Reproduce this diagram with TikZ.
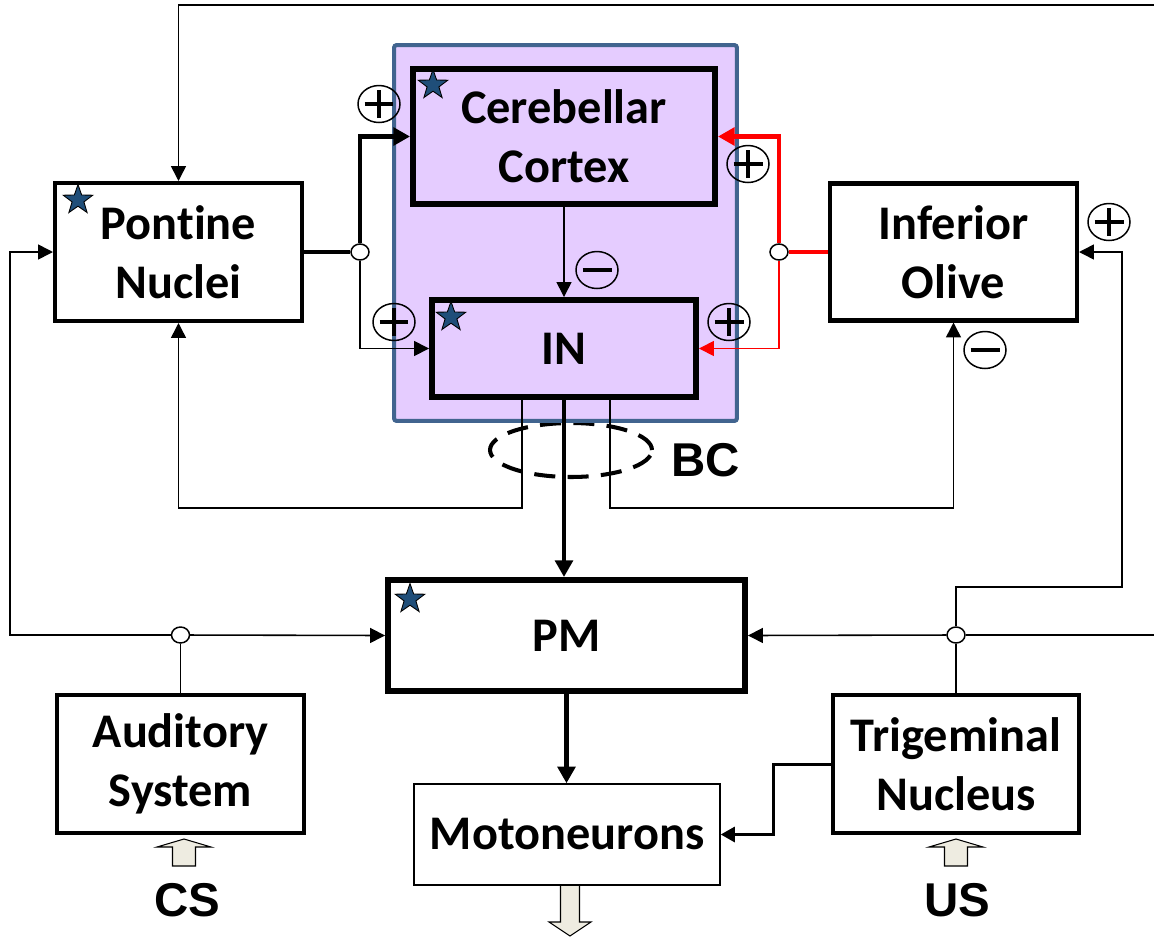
\documentclass[tikz,border=0pt]{standalone}
\usepackage{fontspec}
\setmainfont{Carlito}[Ligatures=NoCommon]
\newfontfamily\labelfont{Liberation Sans}
\usetikzlibrary{positioning,calc,arrows.meta,shapes.geometric}
\definecolor{cbmfill}{RGB}{229,204,255}
\definecolor{cbmedge}{RGB}{65,100,143}
\definecolor{starblue}{RGB}{31,78,121}
\definecolor{inputfill}{RGB}{238,236,225}
\tikzset{
  blk/.style={rectangle, draw=black, line width=2.3pt, fill=white, inner sep=0pt, align=center,
    font=\bfseries\fontsize{27.5}{33.5}\selectfont, minimum width=4.94cm, minimum height=2.76cm},
  blkthick/.style={blk, line width=3.4pt},
  cbm/.style={rectangle, draw=cbmedge, fill=cbmfill, line width=2.3pt, rounded corners=1.5pt,
    minimum width=6.86cm, minimum height=7.52cm},
  jn/.style={ellipse, draw=black, fill=white, line width=0.85pt, minimum width=0.36cm,
    minimum height=0.32cm, inner sep=0pt},
  starmark/.style={star, star points=5, star point ratio=2.5, draw=black, fill=starblue,
    line width=0.5pt, minimum size=0.62cm, inner sep=0pt},
  sgn/.style={ellipse, draw=black, line width=0.85pt, minimum width=0.84cm, minimum height=0.74cm, inner sep=0pt},
  plussgn/.style={sgn, path picture={
    \draw[line width=2.3pt] ([xshift=-0.29cm]path picture bounding box.center) -- ([xshift=0.29cm]path picture bounding box.center)
      ([yshift=-0.28cm]path picture bounding box.center) -- ([yshift=0.28cm]path picture bounding box.center);}},
  minussgn/.style={sgn, path picture={
    \draw[line width=2.3pt] ([xshift=-0.29cm]path picture bounding box.center) -- ([xshift=0.29cm]path picture bounding box.center);}},
  wire/.style={line width=0.9pt},
  arr/.style={wire, -{Triangle[length=8.5pt,width=8.5pt]}},
  fat/.style={line width=2.8pt},
  fatarr/.style={fat, -{Triangle[length=9.5pt,width=10pt]}},
  medarr/.style={line width=1.7pt, -{Triangle[length=8pt,width=8.5pt]}},
  bcring/.style={draw=black, line width=2.3pt, dash pattern=on 12pt off 7pt},
  biglabel/.style={font=\labelfont\bfseries\fontsize{27}{30}\selectfont, inner sep=0pt},
  inarrow/.style={draw=black, line width=0.6pt, fill=inputfill}
}

\begin{document}
\begin{tikzpicture}[x=0.02cm, y=-0.02cm]
  \useasboundingbox (0,0) rectangle (1154,937);

  % basket cells and the cerebellum
  \draw[bcring] (571,450) ellipse [x radius=1.62cm, y radius=0.54cm];
  \node[cbm] (cbm) at (565.5,233) {};

  % blocks
  \node[blk] (pn) at (178.5,252) {Pontine\\Nuclei};
  \node[blkthick, fill=cbmfill, minimum width=6.04cm, minimum height=2.70cm] (cc) at (564,136.5) {Cerebellar\\Cortex};
  \node[blkthick, fill=cbmfill, minimum width=5.28cm, minimum height=1.94cm] (in) at (564,348.5) {IN};
  \node[blk, minimum height=2.74cm] (io) at (953.5,252) {Inferior\\Olive};
  \node[blkthick, minimum width=7.14cm, minimum height=2.22cm] (pm) at (566.5,635.5) {PM};
  \node[blk, line width=0.85pt, minimum width=6.12cm, minimum height=2.02cm] (mn) at (567,834.5) {Motoneurons};
  \node[blk] (as) at (180.5,764) {Auditory\\System};
  \node[blk, minimum width=4.92cm] (tn) at (956,764) {Trigeminal\\Nucleus};

  % branch points
  \node[jn] (pj) at (360,252) {};
  \node[jn] (oj) at (779,252) {};
  \node[jn] (aj) at (180.5,635) {};
  \node[jn] (tj) at (956,635) {};
  \coordinate (topR) at (1154,5);
  \coordinate (midR) at (1154,635);
  \coordinate (leftC) at (10,635);
  \coordinate (rightC) at (1122,587);
  \coordinate (fbrow) at (0,508);

  % connectors
  \draw[arr] (topR) -| (pn.north);
  \draw[arr] (aj) -- (leftC) |- (pn.west);
  \draw[arr] (aj) -- (pm.west);
  \draw[wire] (as.north) -- (aj);
  \draw[arr] (tj) -- (pm.east);
  \draw[wire] (midR) -- (tj);
  \draw[wire] (tn.north) -- (tj);
  \draw[arr] (tj) |- (rightC) |- (io.east);
  \draw[fat] (pn.east) -- (pj);
  \draw[fatarr] (pj) |- (cc.west);
  \draw[arr] (pj) |- (in.west);
  \draw[fat, red] (io.west) -- (oj);
  \draw[fatarr, red] (oj) |- (cc.east);
  \draw[arr, red] (oj) |- (in.east);
  \draw[arr] (cc.south) -- (in.north);
  \draw[fatarr] (in.south) -- (in.south |- pm.north);
  \draw[arr] ([xshift=-0.84cm]in.south) |- (pn.south |- fbrow) -- (pn.south);
  \draw[arr] ([xshift=0.92cm]in.south) |- (io.south |- fbrow) -- (io.south);
  \draw[fatarr] (pm.south) -- (pm.south |- mn.north);
  \draw[medarr] (tn.west) -- ++(-58,0) |- (mn.east);

  % stimuli and output
  \foreach \x in {184,956}
    \draw[inarrow] (\x-11.5,866) -- (\x-11.5,847) -- (\x-27,847) -- (\x,839) -- (\x+27,847) -- (\x+11.5,847) -- (\x+11.5,866) -- cycle;
  \draw[inarrow] (560.5,886) -- (560.5,922) -- (549,922) -- (570,936) -- (591,922) -- (579.5,922) -- (579.5,886);
  \node[biglabel] (cs) at (187,900) {CS};
  \node[biglabel] (us) at (957,900) {US};
  \node[biglabel] (bc) at (706,460) {BC};

  % signs
  \node[plussgn] (s1) at (379,104) {};
  \node[plussgn] (s2) at (394,322) {};
  \node[minussgn] (s3) at (597,270) {};
  \node[plussgn] (s4) at (748,164) {};
  \node[plussgn] (s5) at (729,322) {};
  \node[plussgn] (s6) at (1109,222) {};
  \node[minussgn] (s7) at (985,350) {};

  % stars
  \node[starmark] (st1) at (78,200) {};
  \node[starmark] (st2) at (433,85) {};
  \node[starmark] (st3) at (451,317) {};
  \node[starmark] (st4) at (410,599) {};
\end{tikzpicture}
\end{document}
